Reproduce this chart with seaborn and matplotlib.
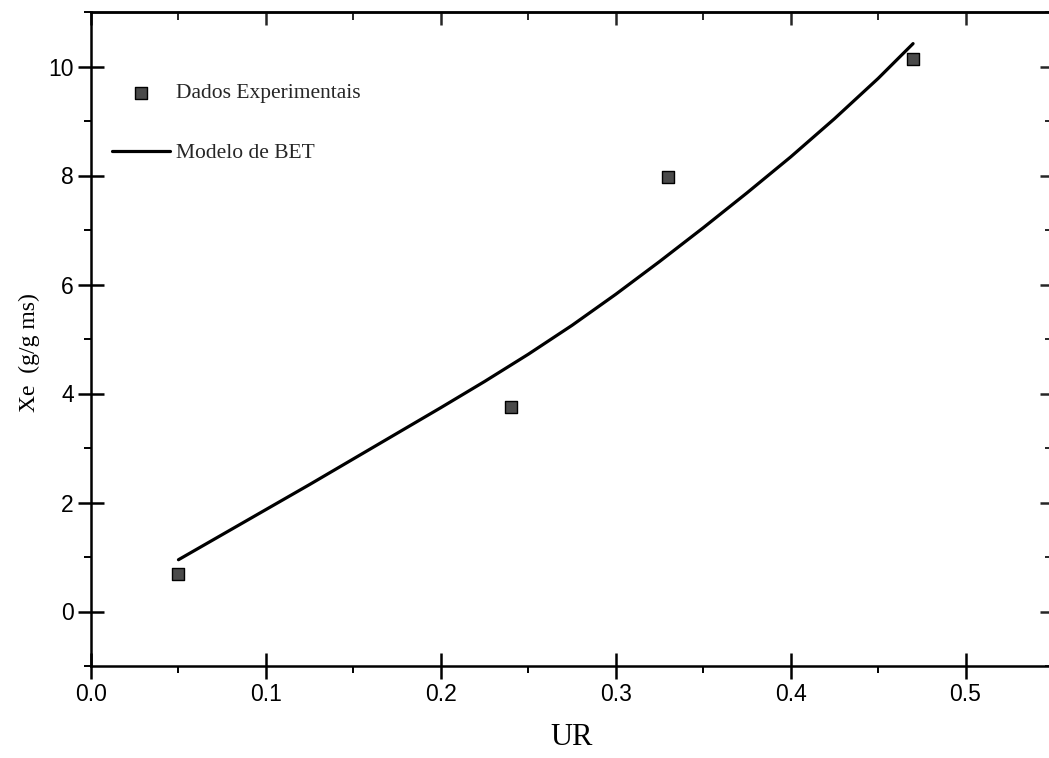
import matplotlib
matplotlib.use("Agg")
import matplotlib.pyplot as plt
import seaborn as sns
import pandas as pd
from matplotlib.ticker import MultipleLocator

# Experimental equilibrium moisture data
ur_exp = [0.05, 0.24, 0.33, 0.47]
xe_exp = [0.68, 3.76, 7.97, 10.13]

# BET model curve
ur_bet = [0.05, 0.075, 0.10, 0.125, 0.15, 0.175, 0.20, 0.225, 0.25, 0.275,
          0.30, 0.325, 0.35, 0.375, 0.40, 0.425, 0.45, 0.47]
xe_bet = [0.95, 1.41, 1.87, 2.33, 2.80, 3.27, 3.74, 4.22, 4.72, 5.25,
          5.82, 6.42, 7.04, 7.68, 8.34, 9.04, 9.78, 10.42]

xticks = [0.0, 0.1, 0.2, 0.3, 0.4, 0.5]
yticks = [0, 2, 4, 6, 8, 10]

sns.set_theme(style="white")
plt.rcParams["font.family"] = ["Liberation Sans", "DejaVu Sans"]

fig = plt.figure(figsize=(10.49, 7.58), dpi=100)
ax = fig.add_axes([91 / 1049, 1 - 666 / 758, 962 / 1049, 654 / 758])

df_exp = pd.DataFrame({"UR": ur_exp, "Xe": xe_exp})
df_bet = pd.DataFrame({"UR": ur_bet, "Xe": xe_bet})

sns.lineplot(data=df_bet, x="UR", y="Xe", ax=ax, color="black", lw=2.3,
             label="Modelo de BET", sort=True)
sns.scatterplot(data=df_exp, x="UR", y="Xe", ax=ax, marker="s", s=70,
                color="#4a4a4a", edgecolor="black", linewidth=1.0,
                label="Dados Experimentais", zorder=3)

ax.set_xlim(0.0, 0.55)
ax.set_ylim(-1, 11)
ax.set_xticks(xticks)
ax.set_yticks(yticks)
ax.set_xticklabels([f"{v:.1f}" for v in xticks])
ax.set_yticklabels([str(v) for v in yticks])
ax.xaxis.set_minor_locator(MultipleLocator(0.05))
ax.yaxis.set_minor_locator(MultipleLocator(1))

for sp in ax.spines.values():
    sp.set_linewidth(1.8)
    sp.set_color("black")

ax.tick_params(which="both", bottom=True, left=True, top=False, right=False)
ax.tick_params(which="major", direction="inout", length=19, width=1.8,
               labelsize=16.5, pad=3, colors="black")
ax.tick_params(which="minor", direction="out", length=5, width=1.4,
               colors="black")

# Mirror ticks on top and right, pointing inward
top = ax.secondary_xaxis("top")
top.set_xticks(xticks)
top.xaxis.set_minor_locator(MultipleLocator(0.05))
top.tick_params(which="both", top=True, labeltop=False)
top.tick_params(which="major", direction="in", length=9.5, width=1.8)
top.tick_params(which="minor", direction="in", length=5.5, width=1.4)
top.spines["top"].set_linewidth(1.8)

right = ax.secondary_yaxis("right")
right.set_yticks(yticks)
right.yaxis.set_minor_locator(MultipleLocator(1))
right.tick_params(which="both", right=True, labelright=False)
right.tick_params(which="major", direction="in", length=9.5, width=1.8)
right.tick_params(which="minor", direction="in", length=5.5, width=1.4)
right.spines["right"].set_linewidth(1.8)

ax.set_xlabel("UR", family=["Liberation Serif"], fontsize=22, labelpad=12,
              color="black")
ax.set_ylabel("Xe  (g/g ms)", family=["Liberation Serif"], fontsize=17,
              color="black")
ax.yaxis.set_label_coords(-0.053, 0.479)

handles, labels = ax.get_legend_handles_labels()
order = [labels.index("Dados Experimentais"), labels.index("Modelo de BET")]
leg = ax.legend([handles[i] for i in order], [labels[i] for i in order],
                loc="upper left", bbox_to_anchor=(0.022, 0.891),
                frameon=False, borderpad=0, borderaxespad=0,
                handlelength=2.7, handletextpad=0.25, labelspacing=1.85,
                prop={"family": "Liberation Serif", "size": 15.5})

fig.savefig("out.png", dpi=100)
